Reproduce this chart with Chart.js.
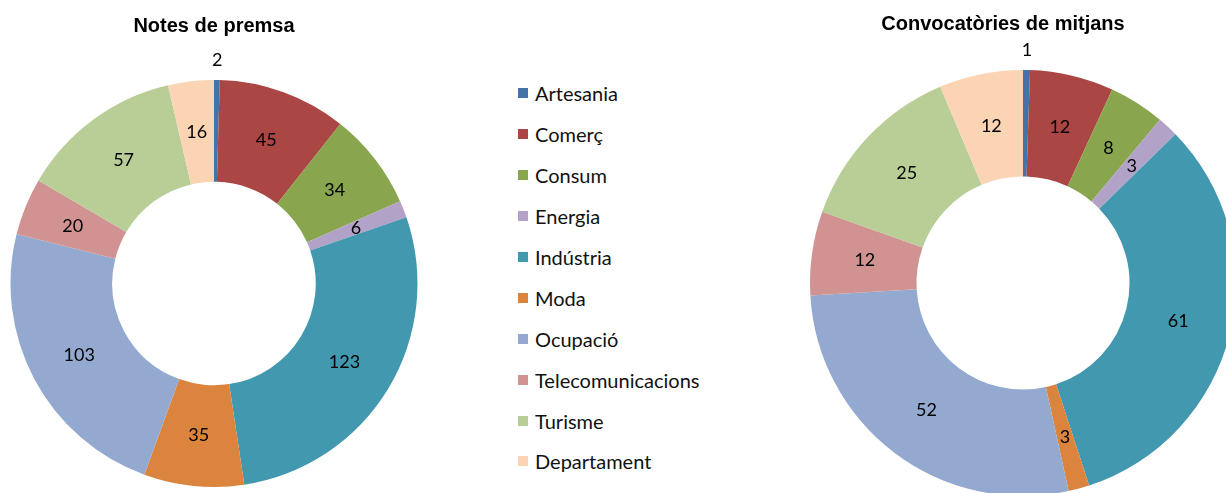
<!DOCTYPE html>
<html>
<head>
<meta charset="utf-8">
<script src="https://cdn.jsdelivr.net/npm/chart.js@4"></script>
<style>
  html, body { margin: 0; padding: 0; background: #fff; overflow: hidden; width: 1226px; height: 493px; }
  #premsaChart { position: absolute; left: 0; top: 0; }
  #mitjansChart { position: absolute; left: 770px; top: 0; }
  #legend { position: absolute; left: 518px; top: 73px; margin: 0; padding: 0; list-style: none;
            font-family: Lato, sans-serif; font-size: 20px; color: #111; }
  #legend li { height: 40.9px; display: flex; align-items: center; }
  #legend span.box { display: inline-block; width: 10px; height: 10px; margin-right: 7px; }
</style>
</head>
<body>
<canvas id="premsaChart" width="428" height="493"></canvas>
<ul id="legend"></ul>
<canvas id="mitjansChart" width="466" height="500"></canvas>
<script>
let categories = ['Artesania', 'Comerç', 'Consum', 'Energia', 'Indústria', 'Moda', 'Ocupació', 'Telecomunicacions', 'Turisme', 'Departament'];
let notesPremsa = [2, 45, 34, 6, 123, 35, 103, 20, 57, 16];
let convocatories = [1, 12, 8, 3, 61, 3, 52, 12, 25, 12];
let colors = ['#4572A7', '#AA4643', '#89A54E', '#B3A2C7', '#4198AF', '#DB843D', '#93A9CF', '#D19392', '#B9CD96', '#FBD4B4'];

// legend in the middle, shared by both charts
let legendEl = document.getElementById('legend');
categories.forEach(function (c, i) {
  let li = document.createElement('li');
  li.innerHTML = '<span class="box" style="background:' + colors[i] + '"></span>' + c;
  legendEl.appendChild(li);
});

// value labels: centre of the ring, tiny slices go outside
const valueLabels = {
  id: 'valueLabels',
  afterDatasetsDraw(chart) {
    const ctx = chart.ctx;
    const ds = chart.data.datasets[0];
    const total = ds.data.reduce((a, b) => a + b, 0);
    const meta = chart.getDatasetMeta(0);
    ctx.save();
    ctx.font = '18px Lato, sans-serif';
    ctx.fillStyle = '#000';
    ctx.textAlign = 'center';
    ctx.textBaseline = 'middle';
    meta.data.forEach(function (arc, i) {
      const p = arc.getProps(['x', 'y', 'startAngle', 'endAngle', 'innerRadius', 'outerRadius'], true);
      const mid = (p.startAngle + p.endAngle) / 2;
      let r = (p.innerRadius + p.outerRadius) / 2;
      if (ds.data[i] / total < 0.01) r = p.outerRadius + 20;
      ctx.fillText(ds.data[i], p.x + Math.cos(mid) * r, p.y + Math.sin(mid) * r);
    });
    ctx.restore();
  }
};

// the right chart is cut off by the page edge, its title sits left of the ring centre
const titleShift = {
  id: 'titleShift',
  afterLayout(chart, args, opts) {
    if (opts.dx && chart.titleBlock) {
      chart.titleBlock.left += opts.dx;
      chart.titleBlock.right += opts.dx;
    }
  }
};

function makeChart(id, title, values, pad, titlePad, dx) {
  return new Chart(document.getElementById(id).getContext('2d'), {
    type: 'doughnut',
    data: {
      labels: categories,
      datasets: [{
        data: values,
        backgroundColor: colors,
        borderWidth: 0
      }]
    },
    options: {
      responsive: false,
      animation: false,
      events: [],
      cutout: '50%',
      layout: { padding: pad },
      plugins: {
        legend: { display: false },
        tooltip: { enabled: false },
        title: {
          display: true,
          text: title,
          color: '#000',
          font: { family: 'Liberation Sans, Arial, sans-serif', size: 20, weight: 'bold' },
          padding: titlePad
        },
        titleShift: { dx: dx }
      }
    },
    plugins: [valueLabels, titleShift]
  });
}

var premsaChart = makeChart('premsaChart', 'Notes de premsa', notesPremsa,
  { left: 10, right: 10, bottom: 6 }, { top: 14, bottom: 42 }, 0);
var mitjansChart = makeChart('mitjansChart', 'Convocatòries de mitjans', convocatories,
  { left: 40, right: 0, bottom: 4 }, { top: 12, bottom: 34 }, -20);
</script>
</body>
</html>
